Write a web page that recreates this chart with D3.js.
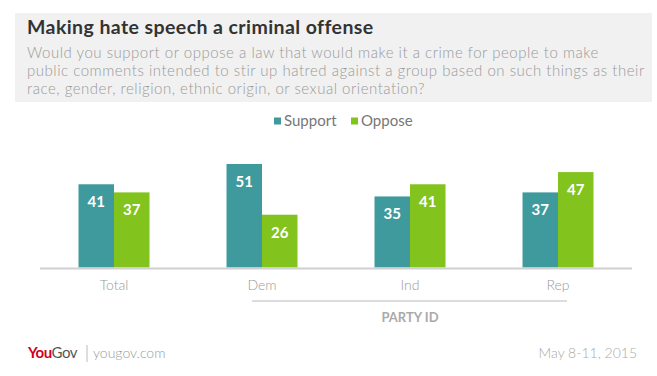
<!DOCTYPE html>
<html>
<head>
<meta charset="utf-8">
<script src="https://cdn.jsdelivr.net/npm/d3@7"></script>
<style>
  body { margin: 0; background: #fff; }
  svg { display: block; font-family: Lato, "Open Sans", sans-serif; }
</style>
</head>
<body>
<script>
const categories = ["Total", "Dem", "Ind", "Rep"];
const seriesNames = ["Support", "Oppose"];
const support = [41, 51, 35, 37];
const oppose = [37, 26, 41, 47];
const colors = ["#3f9a9d", "#82c31e"];

const title = "Making hate speech a criminal offense";
const subtitle = [
    "Would you support or oppose a law that would make it a crime for people to make",
    "public comments intended to stir up hatred against a group based on such things as their",
    "race, gender, religion, ethnic origin, or sexual orientation?"
];

const width = 657, height = 376;
const baseline = 267.5;

const svg = d3.select("body")
    .append("svg")
    .attr("width", width)
    .attr("height", height);

// header box
svg.append("rect")
    .attr("x", 15).attr("y", 13)
    .attr("width", 637).attr("height", 89)
    .attr("fill", "#f1f1f1");

const titleText = svg.append("text")
    .attr("x", 27).attr("y", 34)
    .attr("font-size", "19.5px")
    .attr("font-weight", "bold")
    .attr("fill", "#333")
    .text(title);
// stretch to the width of the original (wider font)
let tw = titleText.node().getComputedTextLength();
titleText.attr("letter-spacing", ((346 - tw) / title.length) + "px");

const subs = svg.selectAll(".sub")
    .data(subtitle)
    .join("text")
    .attr("class", "sub")
    .attr("x", 27)
    .attr("y", (d, i) => 57.5 + i * 18.3)
    .attr("font-size", "15px")
    .attr("font-weight", 300)
    .attr("fill", "#9a9a9a")
    .text(d => d);
const sw = subs.nodes()[1].getComputedTextLength();
subs.attr("letter-spacing", ((618 - sw) / subtitle[1].length) + "px");

// legend
const legendX = [274, 351];
const legend = svg.append("g");
legend.selectAll("rect")
    .data(seriesNames)
    .join("rect")
    .attr("x", (d, i) => legendX[i])
    .attr("y", 117.5)
    .attr("width", 7).attr("height", 7)
    .attr("fill", (d, i) => colors[i]);
legend.selectAll("text")
    .data(seriesNames)
    .join("text")
    .attr("x", (d, i) => legendX[i] + 10)
    .attr("y", 126)
    .attr("font-size", "15px")
    .attr("fill", "#777")
    .text(d => d);

// scales
const x = d3.scaleBand()
    .domain(categories)
    .range([40, 632]);

const x1 = d3.scaleBand()
    .domain(seriesNames)
    .range([0, x.bandwidth()])
    .paddingOuter(1.085);

const y = d3.scaleLinear()
    .domain([0, 50])
    .range([baseline, baseline - 101.5]);

const rows = categories.map((c, i) => ({ cat: c, values: [support[i], oppose[i]] }));

const groups = svg.append("g")
    .selectAll("g")
    .data(rows)
    .join("g")
    .attr("transform", d => "translate(" + x(d.cat) + ",0)");

groups.selectAll("rect")
    .data(d => d.values.map((v, i) => ({ key: seriesNames[i], value: v, i: i })))
    .join("rect")
    .attr("x", d => x1(d.key))
    .attr("y", d => y(d.value))
    .attr("width", x1.bandwidth())
    .attr("height", d => baseline - y(d.value))
    .attr("fill", d => colors[d.i]);

groups.selectAll(".val")
    .data(d => d.values.map((v, i) => ({ key: seriesNames[i], value: v })))
    .join("text")
    .attr("class", "val")
    .attr("x", d => x1(d.key) + x1.bandwidth() / 2)
    .attr("y", d => y(d.value) + 23)
    .attr("text-anchor", "middle")
    .attr("font-size", "15px")
    .attr("font-weight", "bold")
    .attr("fill", "#fff")
    .text(d => d.value);

// axis line
svg.append("line")
    .attr("x1", x.range()[0]).attr("x2", x.range()[1])
    .attr("y1", baseline + 1).attr("y2", baseline + 1)
    .attr("stroke", "#d0d0d0")
    .attr("stroke-width", 2);

// category labels
svg.selectAll(".cat")
    .data(categories)
    .join("text")
    .attr("class", "cat")
    .attr("x", d => x(d) + x.bandwidth() / 2)
    .attr("y", 290)
    .attr("text-anchor", "middle")
    .attr("font-size", "14px")
    .attr("font-weight", 300)
    .attr("fill", "#999")
    .text(d => d);

// party id bracket
const mid = x.bandwidth() / 2;
svg.append("line")
    .attr("x1", x("Dem") + mid - 10).attr("x2", x("Rep") + mid + 9)
    .attr("y1", 301).attr("y2", 301)
    .attr("stroke", "#dcdcdc")
    .attr("stroke-width", 2);
svg.append("text")
    .attr("x", x("Ind") + mid)
    .attr("y", 322)
    .attr("text-anchor", "middle")
    .attr("font-size", "13px")
    .attr("font-weight", "bold")
    .attr("fill", "#aaa")
    .text("PARTY ID");

// footer
const logo = svg.append("text")
    .attr("x", 28).attr("y", 358)
    .attr("font-size", "15px")
    .attr("font-weight", "bold")
    .attr("letter-spacing", "-0.5px");
logo.append("tspan").attr("fill", "#d1001c").text("You");
logo.append("tspan").attr("fill", "#555").attr("font-weight", "normal").text("Gov");

svg.append("line")
    .attr("x1", 87).attr("x2", 87)
    .attr("y1", 345).attr("y2", 362)
    .attr("stroke", "#bbb")
    .attr("stroke-width", 1);

svg.append("text")
    .attr("x", 93).attr("y", 358)
    .attr("font-size", "14px")
    .attr("font-weight", 300)
    .attr("fill", "#999")
    .text("yougov.com");

svg.append("text")
    .attr("x", 637).attr("y", 358)
    .attr("text-anchor", "end")
    .attr("font-size", "14px")
    .attr("font-weight", 300)
    .attr("fill", "#aaa")
    .text("May 8-11, 2015");
</script>
</body>
</html>
